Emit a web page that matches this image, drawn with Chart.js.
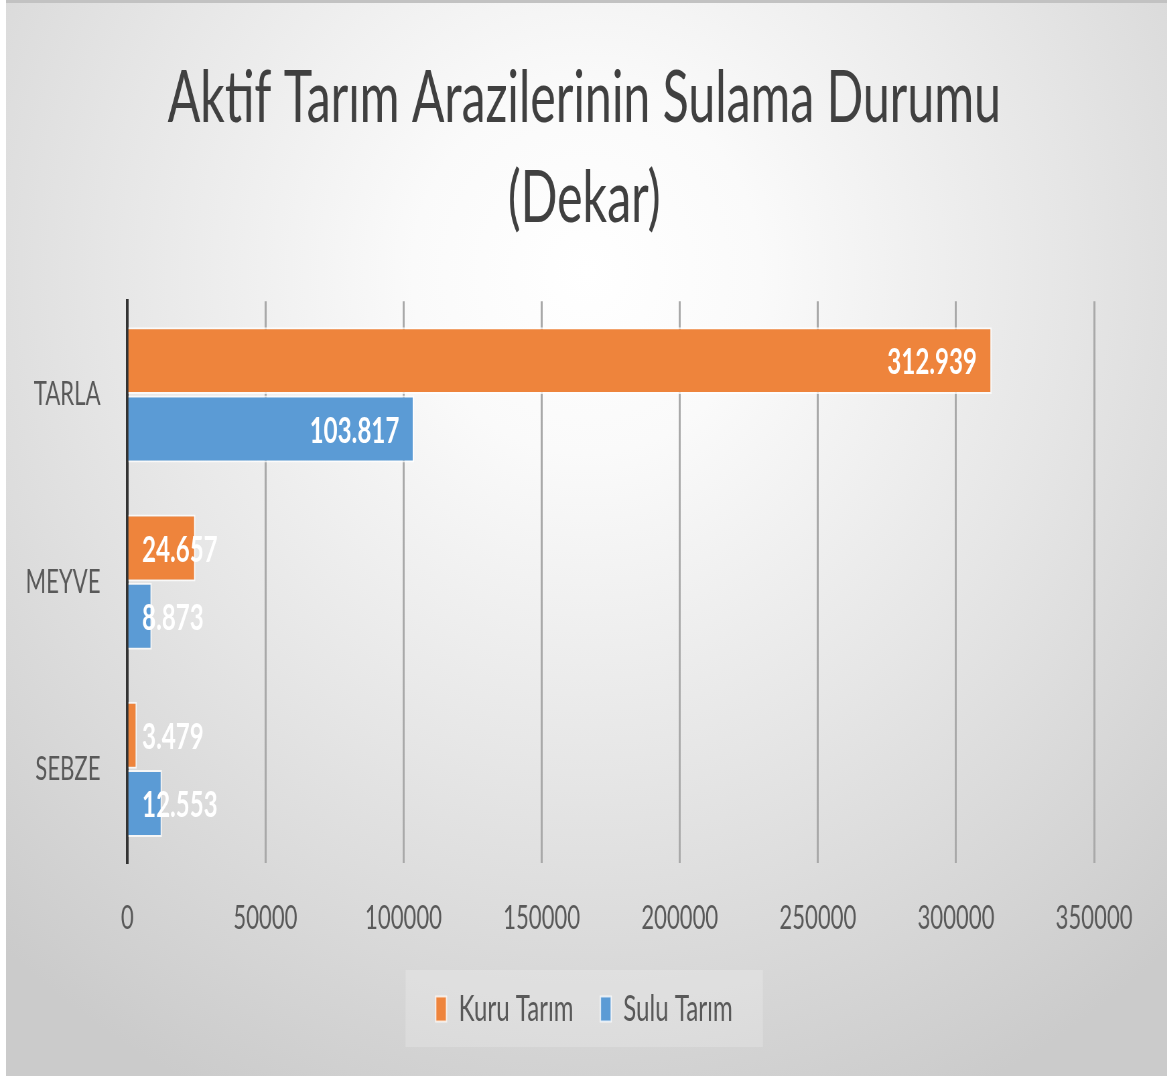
<!DOCTYPE html>
<html>
<head>
<meta charset="utf-8">
<title>Aktif Tarım Arazilerinin Sulama Durumu</title>
<script src="https://cdn.jsdelivr.net/npm/chart.js@4.4.0/dist/chart.umd.min.js"></script>
<style>
    html, body { margin: 0; padding: 0; background: #ffffff; }
    #frame {
        position: absolute; left: 6px; top: 0; width: 1161px; height: 1076px; overflow: hidden;
        border-top: 3px solid #c2c2c2; box-sizing: border-box;
        background: radial-gradient(ellipse 75% 85% at 50% 25%, #ffffff 0%, #fafafa 20%, #e6e6e6 55%, #cbcbcb 100%);
    }
    /* the reference is squeezed sideways, so the chart is drawn wider and scaled down */
    #squeeze {
        position: absolute; left: 0; top: 0; width: 1733px; height: 1073px;
        transform: scaleX(0.67); transform-origin: 0 0;
    }
</style>
</head>
<body>
<div id="frame">
    <div id="squeeze"><canvas id="sulamaChart"></canvas></div>
</div>
<script>
var categories = ["TARLA", "MEYVE", "SEBZE"];
var kuruTarim = [312939, 24657, 3479];
var suluTarim = [103817, 8873, 12553];
var xTicks = [0, 50000, 100000, 150000, 200000, 250000, 300000, 350000];

// 312939 -> "312.939"
function trFormat(v) {
    return String(v).replace(/\B(?=(\d{3})+(?!\d))/g, ".");
}

// Excel style labels: inside end, but never left of the bar base
var valueLabels = {
    id: "valueLabels",
    afterDatasetsDraw: function (chart) {
        var ctx = chart.ctx;
        var base = chart.scales.x.getPixelForValue(0);
        ctx.save();
        ctx.font = "bold 36px Lato";
        ctx.fillStyle = "#ffffff";
        ctx.textAlign = "right";
        ctx.textBaseline = "middle";
        chart.data.datasets.forEach(function (ds, i) {
            chart.getDatasetMeta(i).data.forEach(function (bar, j) {
                var text = trFormat(ds.data[j]);
                var w = ctx.measureText(text).width;
                var right = Math.max(bar.x - 22, base + 22 + w);
                ctx.fillText(text, right, bar.y + 2);
            });
        });
        ctx.restore();
    }
};

// title and legend are centred on the whole picture, not on the padded area
var centreBlocks = {
    id: "centreBlocks",
    afterLayout: function (chart) {
        [chart.titleBlock, chart.legend].forEach(function (box) {
            if (!box) return;
            box.left = 0;
            box.right = 1726;
            box.width = 1726;
        });
    }
};

// light box behind the legend
var legendBox = {
    id: "legendBox",
    beforeDraw: function (chart) {
        var boxes = chart.legend.legendHitBoxes;
        if (!boxes || !boxes.length) return;
        var left = Math.min.apply(null, boxes.map(function (b) { return b.left; }));
        var right = Math.max.apply(null, boxes.map(function (b) { return b.left + b.width; }));
        var mid = boxes[0].top + boxes[0].height / 2;
        var ctx = chart.ctx;
        ctx.save();
        ctx.fillStyle = "rgba(255,255,255,0.2)";
        ctx.fillRect(left - 45, mid - 39, right - left + 90, 77);
        ctx.restore();
    }
};

Chart.defaults.font.family = "Lato";
Chart.defaults.color = "#595959";

var canvas = document.getElementById("sulamaChart");
var sulamaChart = new Chart(canvas, {
    type: "bar",
    data: {
        labels: categories,
        datasets: [{
            label: "Kuru Tarım",
            data: kuruTarim,
            backgroundColor: "#ee843c",
            borderColor: "rgba(255,255,255,0.75)",
            borderWidth: 2
        }, {
            label: "Sulu Tarım",
            data: suluTarim,
            backgroundColor: "#5b9bd5",
            borderColor: "rgba(255,255,255,0.75)",
            borderWidth: 2
        }]
    },
    options: {
        indexAxis: "y",
        responsive: true,
        maintainAspectRatio: false,
        animation: false,
        categoryPercentage: 0.73,
        barPercentage: 0.98,
        layout: {
            padding: { top: 0, right: 109, bottom: 39, left: 0 }
        },
        scales: {
            x: {
                min: 0,
                max: 350000,
                afterBuildTicks: function (scale) {
                    scale.ticks = xTicks.map(function (v) { return { value: v }; });
                },
                afterFit: function (scale) { scale.height = 88; },
                grid: { color: "#a9a9a9", lineWidth: 3, drawTicks: false },
                border: { display: false },
                ticks: {
                    padding: 36,
                    maxRotation: 0,
                    font: { size: 33 },
                    callback: function (v) { return String(v); }
                }
            },
            y: {
                afterFit: function (scale) { scale.width = 181; },
                grid: { display: false, drawTicks: false },
                border: { display: true, color: "#333333", width: 4 },
                ticks: { padding: 40, font: { size: 33 } }
            }
        },
        plugins: {
            title: {
                display: true,
                text: ["Aktif Tarım Arazilerinin Sulama Durumu", "(Dekar)"],
                color: "#404040",
                font: { size: 72, weight: "normal", lineHeight: 1.39 },
                padding: { top: 46, bottom: 52 }
            },
            legend: {
                position: "bottom",
                labels: {
                    boxWidth: 16,
                    boxHeight: 25,
                    padding: 40,
                    font: { size: 36 },
                    color: "#595959"
                }
            },
            tooltip: { enabled: false }
        }
    },
    plugins: [centreBlocks, legendBox, valueLabels]
});
</script>
</body>
</html>
